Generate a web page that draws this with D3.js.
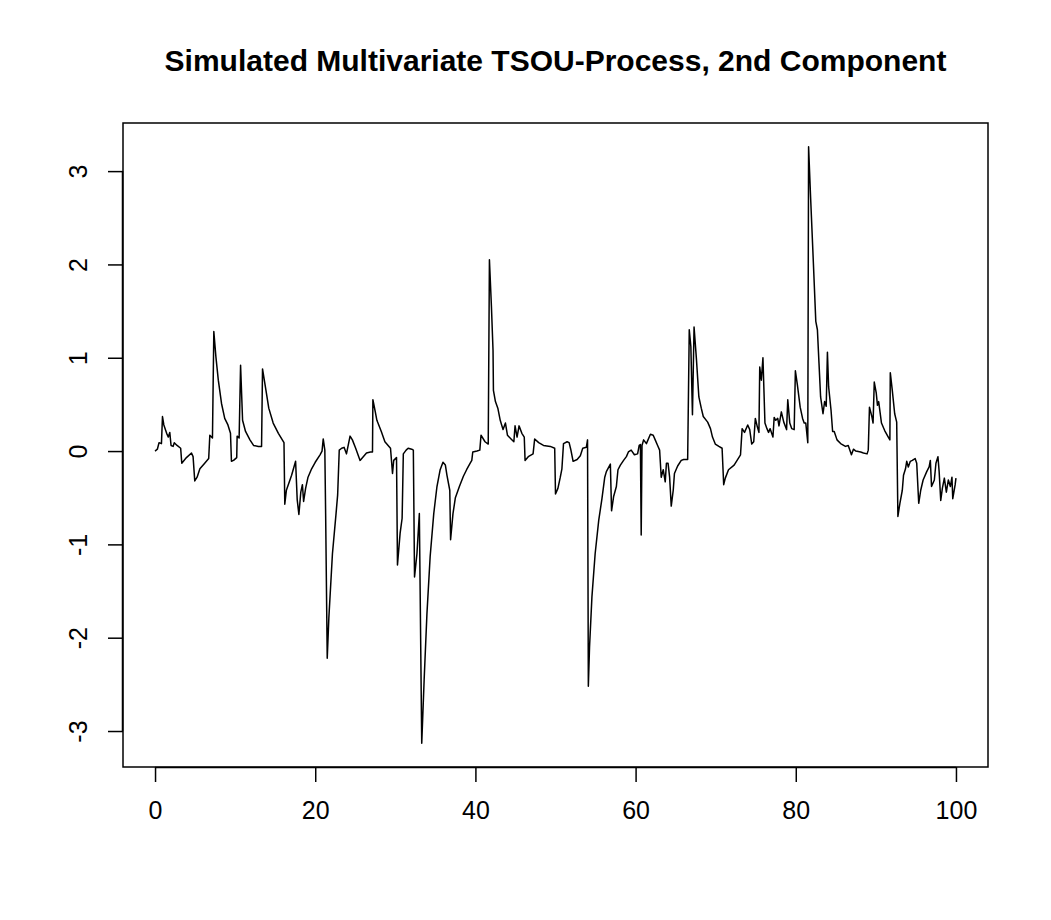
<!DOCTYPE html>
<html>
<head>
<meta charset="utf-8">
<script src="https://cdn.jsdelivr.net/npm/d3@7"></script>
<style>
  html, body { margin: 0; padding: 0; background: #ffffff; }
  svg { display: block; }
  text { font-family: "Liberation Sans", Arial, Helvetica, sans-serif; fill: #000; }
</style>
</head>
<body>
<script>
// ---- data ----
const chartTitle = "Simulated Multivariate TSOU-Process, 2nd Component";

const times = [
  0.00, 0.29, 0.50, 0.80, 0.93, 1.10, 1.45, 1.66, 1.84, 2.00, 2.26, 2.40, 2.75, 3.20, 3.34, 3.92,
  4.55, 4.75, 4.96, 5.25, 5.60, 6.20, 6.70, 6.84, 7.17, 7.34, 7.60, 7.90, 8.30, 8.70, 9.10, 9.42,
  9.54, 9.80, 10.20, 10.25, 10.50, 10.68, 10.93, 11.30, 11.85, 12.30, 12.90, 13.30, 13.42, 13.85,
  14.20, 14.75, 15.40, 16.10, 16.20, 16.40, 17.05, 17.55, 17.75, 17.96, 18.20, 18.40, 18.55, 18.80,
  19.10, 19.55, 20.00, 20.60, 20.85, 21.00, 21.20, 21.30, 21.50, 21.70, 22.15, 22.60, 22.80, 23.00,
  23.30, 23.60, 23.90, 24.35, 24.64, 25.05, 25.60, 26.00, 26.40, 26.90, 27.15, 27.20, 27.50, 27.70,
  28.25, 28.70, 29.10, 29.40, 29.65, 29.80, 30.15, 30.27, 30.60, 30.85, 31.00, 31.35, 31.60, 32.05,
  32.25, 32.40, 32.70, 33.00, 33.30, 33.60, 33.95, 34.35, 34.80, 35.20, 35.60, 35.95, 36.25, 36.45,
  36.80, 36.90, 37.20, 37.50, 38.00, 38.50, 38.90, 39.35, 39.55, 39.67, 40.20, 40.55, 40.70, 41.20,
  41.60, 41.75, 42.00, 42.20, 42.25, 42.50, 42.80, 43.10, 43.45, 43.75, 44.00, 44.45, 44.80, 44.95,
  45.20, 45.45, 45.80, 46.10, 46.20, 46.60, 47.20, 47.40, 47.90, 48.50, 49.35, 49.90, 50.00, 50.30,
  50.60, 50.80, 51.00, 51.45, 51.70, 51.90, 52.20, 52.70, 53.10, 53.40, 53.85, 54.00, 54.10, 54.25,
  54.55, 54.95, 55.40, 55.80, 56.15, 56.35, 56.85, 57.00, 57.25, 57.60, 57.80, 58.10, 58.50, 58.85,
  59.10, 59.45, 59.85, 60.25, 60.45, 60.60, 60.70, 60.80, 61.00, 61.35, 61.85, 62.20, 62.45, 62.75,
  63.00, 63.20, 63.45, 63.70, 63.85, 64.05, 64.25, 64.45, 64.70, 64.85, 65.25, 65.70, 66.00, 66.50,
  66.70, 66.90, 67.10, 67.30, 67.60, 67.90, 68.20, 68.45, 69.00, 69.35, 69.60, 69.95, 70.40, 70.80,
  71.00, 71.20, 71.60, 72.30, 73.10, 73.30, 73.60, 74.00, 74.25, 74.50, 74.75, 74.95, 75.20, 75.40,
  75.50, 75.70, 75.90, 76.15, 76.40, 76.60, 76.80, 77.15, 77.30, 77.50, 77.75, 77.90, 78.20, 78.50,
  78.85, 79.00, 79.25, 79.50, 79.80, 79.95, 80.20, 80.55, 80.85, 81.05, 81.25, 81.50, 81.60, 81.85,
  82.20, 82.50, 82.70, 82.90, 83.10, 83.40, 83.60, 83.80, 83.95, 84.10, 84.40, 84.60, 84.80, 85.15,
  85.60, 86.20, 86.55, 86.95, 87.20, 87.50, 88.10, 88.45, 88.90, 89.05, 89.20, 89.50, 89.65, 89.80,
  90.05, 90.20, 90.35, 90.70, 91.10, 91.55, 91.75, 91.80, 92.05, 92.35, 92.60, 92.75, 93.00, 93.30,
  93.45, 93.70, 93.85, 94.05, 94.30, 94.55, 94.90, 95.10, 95.35, 95.60, 95.90, 96.35, 96.65, 96.80,
  96.95, 97.30, 97.50, 97.75, 97.90, 98.10, 98.30, 98.55, 98.80, 99.05, 99.30, 99.50, 99.60, 99.90,
  100.00
];

const values = [
  0.00, 0.02, 0.09, 0.08, 0.37, 0.28, 0.19, 0.15, 0.20, 0.06, 0.05, 0.09, 0.06, 0.03, -0.13, -0.07,
  -0.02, -0.06, -0.32, -0.28, -0.19, -0.13, -0.08, 0.17, 0.14, 1.28, 1.01, 0.76, 0.51, 0.35, 0.28, 0.19,
  -0.11, -0.10, -0.07, 0.16, 0.14, 0.92, 0.33, 0.21, 0.12, 0.06, 0.05, 0.05, 0.88, 0.65,
  0.46, 0.30, 0.19, 0.09, -0.57, -0.42, -0.26, -0.11, -0.52, -0.68, -0.44, -0.36, -0.54, -0.40,
  -0.28, -0.19, -0.12, -0.04, 0.00, 0.13, 0.01, -0.67, -2.22, -1.79, -1.10, -0.67, -0.47, 0.01,
  0.03, 0.04, -0.03, 0.16, 0.12, 0.03, -0.10, -0.06, -0.02, -0.01, -0.01, 0.55, 0.42, 0.33,
  0.21, 0.10, 0.06, 0.03, -0.24, -0.10, -0.07, -1.22, -0.88, -0.72, -0.03, 0.01, 0.03, 0.02,
  0.01, -1.35, -1.10, -0.67, -3.13, -2.45, -1.74, -1.13, -0.67, -0.38, -0.20, -0.12, -0.15, -0.26,
  -0.42, -0.95, -0.67, -0.50, -0.38, -0.27, -0.20, -0.13, -0.10, -0.01, 0.00, 0.01, 0.17, 0.10,
  0.075, 2.05, 1.55, 1.08, 0.65, 0.53, 0.46, 0.33, 0.23, 0.30, 0.17, 0.13, 0.10, 0.27,
  0.15, 0.27, 0.19, 0.15, -0.10, -0.06, -0.03, 0.13, 0.09, 0.06, 0.05, 0.03, -0.46, -0.40,
  -0.28, -0.19, 0.08, 0.10, 0.09, 0.02, -0.11, -0.09, -0.05, 0.03, 0.04, 0.12, -2.52, -2.10,
  -1.56, -1.10, -0.74, -0.51, -0.28, -0.22, -0.14, -0.64, -0.49, -0.38, -0.20, -0.15, -0.10, -0.06,
  -0.01, 0.01, -0.04, -0.03, 0.06, 0.07, -0.90, 0.06, 0.12, 0.08, 0.18, 0.17, 0.12, 0.06,
  0.01, -0.28, -0.20, -0.33, -0.13, -0.13, -0.28, -0.59, -0.42, -0.24, -0.16, -0.10, -0.09, -0.09,
  1.30, 1.12, 0.39, 1.33, 0.98, 0.58, 0.46, 0.37, 0.31, 0.24, 0.15, 0.075, 0.05, 0.03,
  -0.36, -0.29, -0.20, -0.15, -0.04, 0.24, 0.20, 0.28, 0.23, 0.075, 0.10, 0.35, 0.26, 0.20,
  0.90, 0.76, 1.00, 0.30, 0.24, 0.20, 0.24, 0.15, 0.36, 0.33, 0.35, 0.27, 0.42, 0.31,
  0.23, 0.55, 0.30, 0.24, 0.23, 0.86, 0.71, 0.47, 0.35, 0.30, 0.30, 0.09, 3.26, 2.72,
  2.01, 1.39, 1.30, 0.94, 0.58, 0.40, 0.53, 0.48, 1.06, 0.69, 0.44, 0.21, 0.21, 0.12,
  0.08, 0.05, 0.06, -0.04, 0.02, 0.00, -0.01, -0.02, -0.03, 0.01, 0.47, 0.37, 0.30, 0.74,
  0.62, 0.49, 0.53, 0.30, 0.22, 0.15, 0.12, 0.84, 0.65, 0.40, 0.31, -0.70, -0.56, -0.42,
  -0.26, -0.19, -0.11, -0.17, -0.11, -0.10, -0.08, -0.13, -0.56, -0.42, -0.31, -0.22, -0.17, -0.10,
  -0.38, -0.31, -0.13, -0.06, -0.22, -0.53, -0.40, -0.29, -0.44, -0.31, -0.38, -0.28, -0.51, -0.36,
  -0.29
];

const xTickValues = [0, 20, 40, 60, 80, 100];
const yTickValues = [-3, -2, -1, 0, 1, 2, 3];

// ---- layout ----
const W = 1051, H = 920;
const plot = { left: 123, right: 988, top: 123, bottom: 767 };

const svg = d3.select("body").append("svg")
  .attr("width", W).attr("height", H)
  .attr("viewBox", `0 0 ${W} ${H}`);

svg.append("rect").attr("width", W).attr("height", H).attr("fill", "#fff");

// R-style 4% axis extension
function pad(ext) {
  const r = ext[1] - ext[0];
  return [ext[0] - 0.04 * r, ext[1] + 0.04 * r];
}

const x = d3.scaleLinear().domain(pad(d3.extent(times))).range([plot.left, plot.right]);
const y = d3.scaleLinear().domain(pad(d3.extent(values))).range([plot.bottom, plot.top]);

const pts = times.map((t, i) => [t, values[i]]);
const fmt = d => String(d); // plain hyphen-minus like R

// series line
svg.append("path")
  .datum(pts)
  .attr("fill", "none")
  .attr("stroke", "#000")
  .attr("stroke-width", 1.5)
  .attr("stroke-linejoin", "round")
  .attr("d", d3.line().x(d => x(d[0])).y(d => y(d[1])));

// box
svg.append("rect")
  .attr("x", plot.left).attr("y", plot.top)
  .attr("width", plot.right - plot.left).attr("height", plot.bottom - plot.top)
  .attr("fill", "none").attr("stroke", "#000").attr("stroke-width", 1.5);

// x axis
const xAxis = svg.append("g")
  .attr("transform", `translate(0,${plot.bottom})`)
  .call(d3.axisBottom(x).tickValues(xTickValues).tickSize(15).tickPadding(0).tickFormat(fmt));
xAxis.select(".domain").attr("d", `M${x(0)},0.5H${x(100)}`).attr("stroke-width", 1.5);
xAxis.selectAll(".tick line").attr("stroke-width", 1.5);
xAxis.selectAll(".tick text")
  .attr("y", 52).attr("dy", null)
  .style("font-size", "25px").style("font-family", '"Liberation Sans", Arial, sans-serif');

// y axis
const yAxis = svg.append("g")
  .attr("transform", `translate(${plot.left},0)`)
  .call(d3.axisLeft(y).tickValues(yTickValues).tickSize(15).tickPadding(0).tickFormat(fmt));
yAxis.select(".domain").attr("d", `M-0.5,${y(-3)}V${y(3)}`).attr("stroke-width", 1.5);
yAxis.selectAll(".tick line").attr("stroke-width", 1.5);
yAxis.selectAll(".tick text")
  .attr("x", null).attr("dy", null)
  .attr("text-anchor", "middle")
  .attr("transform", "translate(-36,0) rotate(-90)")
  .style("font-size", "25px").style("font-family", '"Liberation Sans", Arial, sans-serif');

// title
svg.append("text")
  .attr("x", (plot.left + plot.right) / 2)
  .attr("y", 71)
  .attr("text-anchor", "middle")
  .style("font-size", "30px")
  .style("font-weight", "bold")
  .text(chartTitle);
</script>
</body>
</html>
